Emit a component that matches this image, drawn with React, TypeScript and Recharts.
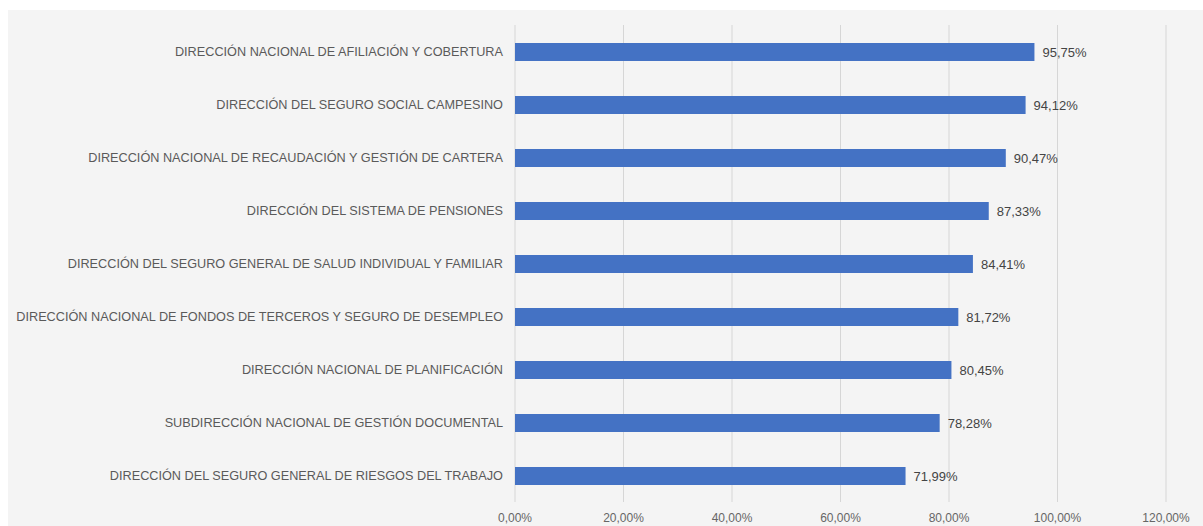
import { Bar, BarChart, CartesianGrid, LabelList, XAxis, YAxis } from "recharts";

const departments = [
  "DIRECCIÓN NACIONAL DE AFILIACIÓN Y COBERTURA",
  "DIRECCIÓN DEL SEGURO SOCIAL CAMPESINO",
  "DIRECCIÓN NACIONAL DE RECAUDACIÓN Y GESTIÓN DE CARTERA",
  "DIRECCIÓN DEL SISTEMA DE PENSIONES",
  "DIRECCIÓN DEL SEGURO GENERAL DE SALUD INDIVIDUAL Y FAMILIAR",
  "DIRECCIÓN NACIONAL DE FONDOS DE TERCEROS Y SEGURO DE DESEMPLEO",
  "DIRECCIÓN NACIONAL DE PLANIFICACIÓN",
  "SUBDIRECCIÓN NACIONAL DE GESTIÓN DOCUMENTAL",
  "DIRECCIÓN DEL SEGURO GENERAL DE RIESGOS DEL TRABAJO",
];

const percentages = [95.75, 94.12, 90.47, 87.33, 84.41, 81.72, 80.45, 78.28, 71.99];

const xTicks = [0, 20, 40, 60, 80, 100, 120];

const data = departments.map((name, i) => ({ name, value: percentages[i] }));

const pct = (v: number) => `${v.toFixed(2).replace(".", ",")}%`;

const font = "'Liberation Sans', Arial, sans-serif";

// one line per category, no wrapping
function CategoryTick({ x, y, payload }: any) {
  return (
    <text
      x={x}
      y={y}
      dy="0.35em"
      textAnchor="end"
      fill="#5a5a5a"
      fontSize={12.7}
      fontFamily={font}
    >
      {payload.value}
    </text>
  );
}

export default function App() {
  return (
    <div
      style={{
        position: "absolute",
        left: 8,
        top: 10,
        width: 1195,
        height: 516,
        background: "#f4f4f4",
        fontFamily: font,
      }}
    >
      <BarChart
        width={1195}
        height={516}
        data={data}
        layout="vertical"
        margin={{ top: 15, right: 37, bottom: 0, left: 0 }}
      >
        <CartesianGrid stroke="#d6d6d6" horizontal={false} />
        <XAxis
          type="number"
          domain={[0, 120]}
          ticks={xTicks}
          tickFormatter={pct}
          axisLine={false}
          tickLine={false}
          tickSize={6}
          tickMargin={5}
          height={24}
          interval={0}
          tick={{ fill: "#666666", fontSize: 12, fontFamily: font }}
        />
        <YAxis
          type="category"
          dataKey="name"
          width={507}
          axisLine={false}
          tickLine={false}
          tickSize={6}
          tickMargin={6}
          interval={0}
          tick={<CategoryTick />}
        />
        <Bar dataKey="value" fill="#4472c4" barSize={18} isAnimationActive={false}>
          <LabelList
            dataKey="value"
            position="right"
            offset={8}
            formatter={(v: number) => pct(v)}
            style={{ fill: "#444444", fontSize: 13, fontFamily: font }}
          />
        </Bar>
      </BarChart>
    </div>
  );
}
